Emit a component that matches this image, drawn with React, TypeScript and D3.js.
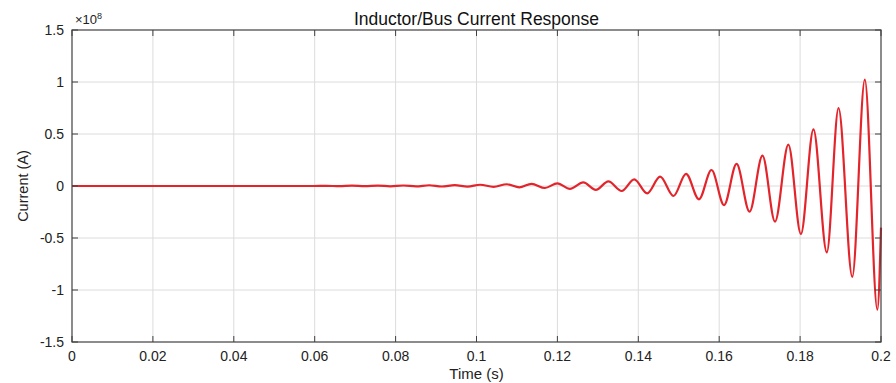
import React, { useEffect, useRef } from 'react';
import * as d3 from 'd3';

// peaks and troughs of the response (time in s, current in 1e8 A)
const times = [
  0, 0.0597, 0.0629, 0.0661, 0.0692, 0.0724, 0.0756, 0.0787, 0.0819, 0.0851, 0.0883, 0.0914,
  0.0946, 0.0978, 0.1009, 0.1042, 0.1075, 0.1106, 0.1136, 0.1169, 0.12, 0.1231, 0.1264,
  0.1295, 0.1326, 0.1359, 0.139, 0.1422, 0.1454, 0.1487, 0.1518, 0.155, 0.1581, 0.1612,
  0.1643, 0.1675, 0.1707, 0.1738, 0.1771, 0.1802, 0.1833, 0.1866, 0.1895, 0.1929, 0.196,
  0.1991, 0.2,
];
const current = [
  0, 0, 0.002, -0.002, 0.003, -0.002, 0.004, -0.003, 0.005, -0.004, 0.007, -0.005,
  0.009, -0.006, 0.012, -0.008, 0.017, -0.013, 0.021, -0.019, 0.026, -0.027, 0.034,
  -0.037, 0.044, -0.048, 0.064, -0.071, 0.09, -0.096, 0.117, -0.128, 0.154, -0.183,
  0.212, -0.247, 0.292, -0.343, 0.398, -0.462, 0.545, -0.638, 0.748, -0.873, 1.022,
  -1.19, -0.4,
];
const xTicks = [0, 0.02, 0.04, 0.06, 0.08, 0.1, 0.12, 0.14, 0.16, 0.18, 0.2];
const yTicks = [-1.5, -1, -0.5, 0, 0.5, 1, 1.5];

const W = 896;
const H = 383;
const margin = { top: 30, right: 15, bottom: 41, left: 72 };
const font = 'Arial, "Liberation Sans", Helvetica, sans-serif';

export default function App() {
  const svgRef = useRef<SVGSVGElement>(null);

  useEffect(() => {
    if (!svgRef.current) return;
    const svg = d3.select(svgRef.current);
    svg.selectAll('*').remove();

    const x = d3.scaleLinear().domain([0, 0.2]).range([margin.left, W - margin.right]);
    const y = d3.scaleLinear().domain([-1.5, 1.5]).range([H - margin.bottom, margin.top]);
    const [x0, x1] = x.range();
    const [y0, y1] = y.range();

    svg.append('rect').attr('width', W).attr('height', H).attr('fill', '#fff');

    // grid
    const grid = svg.append('g').attr('stroke', '#dcdcdc').attr('stroke-width', 1);
    xTicks.slice(1, -1).forEach((t) => {
      grid.append('line').attr('x1', x(t)).attr('x2', x(t)).attr('y1', y0).attr('y2', y1);
    });
    yTicks.slice(1, -1).forEach((t) => {
      grid.append('line').attr('x1', x0).attr('x2', x1).attr('y1', y(t)).attr('y2', y(t));
    });

    // curve
    const pts = times.map((t, i) => [t, current[i]] as [number, number]);
    const line = d3
      .line<[number, number]>()
      .x((d) => x(d[0]))
      .y((d) => y(d[1]))
      .curve(d3.curveMonotoneX);
    svg
      .append('path')
      .attr('d', line(pts))
      .attr('fill', 'none')
      .attr('stroke', '#e3252b')
      .attr('stroke-width', 2.2);

    // box and ticks
    const axisColor = '#404040';
    svg
      .append('rect')
      .attr('x', x0)
      .attr('y', y1)
      .attr('width', x1 - x0)
      .attr('height', y0 - y1)
      .attr('fill', 'none')
      .attr('stroke', axisColor)
      .attr('stroke-width', 1.2);

    const ticks = svg.append('g').attr('stroke', axisColor).attr('stroke-width', 1);
    xTicks.forEach((t) => {
      ticks.append('line').attr('x1', x(t)).attr('x2', x(t)).attr('y1', y0).attr('y2', y0 - 6);
      ticks.append('line').attr('x1', x(t)).attr('x2', x(t)).attr('y1', y1).attr('y2', y1 + 6);
    });
    yTicks.forEach((t) => {
      ticks.append('line').attr('x1', x0).attr('x2', x0 + 6).attr('y1', y(t)).attr('y2', y(t));
      ticks.append('line').attr('x1', x1).attr('x2', x1 - 6).attr('y1', y(t)).attr('y2', y(t));
    });

    // tick labels
    const labels = svg.append('g').attr('font-family', font).attr('font-size', 14).attr('fill', '#222');
    xTicks.forEach((t) => {
      labels
        .append('text')
        .attr('x', x(t))
        .attr('y', y0 + 19)
        .attr('text-anchor', 'middle')
        .text(String(t));
    });
    yTicks.forEach((t) => {
      labels
        .append('text')
        .attr('x', x0 - 8)
        .attr('y', y(t) + 5)
        .attr('text-anchor', 'end')
        .text(String(t));
    });

    // exponent
    const exp = svg
      .append('text')
      .attr('x', x0 + 3)
      .attr('y', y1 - 6)
      .attr('font-family', font)
      .attr('font-size', 13)
      .attr('fill', '#222');
    exp.append('tspan').text('×10');
    exp.append('tspan').attr('dy', -5).attr('font-size', 9).text('8');

    // title and axis labels
    svg
      .append('text')
      .attr('x', (x0 + x1) / 2)
      .attr('y', 25)
      .attr('text-anchor', 'middle')
      .attr('font-family', font)
      .attr('font-size', 17.5)
      .attr('fill', '#111')
      .text('Inductor/Bus Current Response');
    svg
      .append('text')
      .attr('x', (x0 + x1) / 2)
      .attr('y', H - 4)
      .attr('text-anchor', 'middle')
      .attr('font-family', font)
      .attr('font-size', 15)
      .attr('fill', '#222')
      .text('Time (s)');
    svg
      .append('text')
      .attr('transform', `translate(28,${(y0 + y1) / 2}) rotate(-90)`)
      .attr('text-anchor', 'middle')
      .attr('font-family', font)
      .attr('font-size', 14.5)
      .attr('fill', '#222')
      .text('Current (A)');
  }, []);

  return (
    <svg
      ref={svgRef}
      width={W}
      height={H}
      style={{ position: 'absolute', left: 0, top: 0, display: 'block' }}
    />
  );
}
